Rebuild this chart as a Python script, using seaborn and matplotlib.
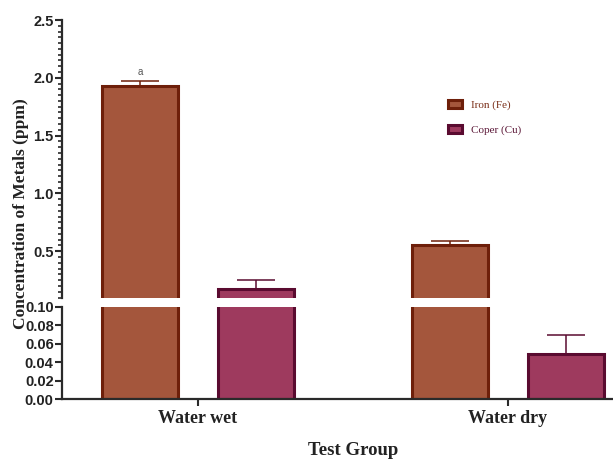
import numpy as np
import pandas as pd
import matplotlib
matplotlib.use("Agg")
import matplotlib.pyplot as plt
import seaborn as sns

# data
groups = ["Water wet", "Water dry"]
metals = ["Iron (Fe)", "Coper (Cu)"]
iron_mean = [1.93, 0.558]
iron_err = [0.046, 0.034]
copper_mean = [0.175, 0.0486]
copper_err = [0.075, 0.0212]

fill_colors = ["#A4563C", "#9E3A5E"]
edge_colors = ["#6E1F0A", "#5A0B30"]
text_colors = ["#7A2E18", "#5C1838"]

df = pd.DataFrame({
    "Group": groups * 2,
    "Metal": [metals[0]] * 2 + [metals[1]] * 2,
    "Value": iron_mean + copper_mean,
})

sns.set_style("ticks")
plt.rcParams["font.family"] = ["Liberation Sans", "DejaVu Sans"]

W, H = 613, 461
fig = plt.figure(figsize=(W / 100, H / 100), dpi=100)
left = 62 / W
width = 1 - left
ax_top = fig.add_axes([left, 1 - 297.5 / H, width, (297.5 - 20) / H])
ax_bot = fig.add_axes([left, 1 - 399.3 / H, width, (399.3 - 306.7) / H])

offset = 0.1875
for ax in (ax_top, ax_bot):
    sns.barplot(data=df, x="Group", y="Value", hue="Metal", order=groups,
                hue_order=metals, palette=fill_colors, width=0.75, gap=0.35,
                errorbar=None, legend=False, ax=ax, saturation=1)
    for cont, ec in zip(ax.containers, edge_colors):
        for p in cont:
            p.set_edgecolor(ec)
            p.set_linewidth(2.2)
    for k, (means, errs) in enumerate([(iron_mean, iron_err), (copper_mean, copper_err)]):
        xs = np.arange(len(groups)) + (k * 2 - 1) * offset
        ax.errorbar(xs, means, yerr=[np.zeros(len(errs)), errs], fmt="none",
                    ecolor=edge_colors[k], elinewidth=1.1, capsize=14,
                    capthick=1.1, zorder=1)
    ax.set_xlim(-136 / 310, 1 + 105 / 310)
    ax.set_xlabel("")
    ax.set_ylabel("")
    for s in ax.spines.values():
        s.set_linewidth(1.6)
        s.set_color("#2a2a2a")
    ax.spines["right"].set_visible(False)
    ax.spines["top"].set_visible(False)
    ax.tick_params(axis="y", labelsize=10.5, width=1.5, length=5, pad=1,
                   color="#2a2a2a", labelcolor="#222222")

ax_top.set_ylim(0.1, 2.5)
ax_top.set_yticks([0.5, 1.0, 1.5, 2.0, 2.5])
ax_top.set_yticks(np.arange(0.1, 2.5, 0.05), minor=True)
ax_top.yaxis.set_major_formatter(matplotlib.ticker.FormatStrFormatter("%.1f"))
ax_top.tick_params(axis="y", which="minor", length=3, width=1.2, color="#2a2a2a")
ax_top.spines["bottom"].set_visible(False)
ax_top.tick_params(axis="x", bottom=False, labelbottom=False)

ax_bot.set_ylim(0, 0.1)
ax_bot.set_yticks(np.arange(0, 0.101, 0.02))
ax_bot.yaxis.set_major_formatter(matplotlib.ticker.FormatStrFormatter("%.2f"))
ax_bot.tick_params(axis="x", width=1.5, length=5, pad=3, color="#2a2a2a")
ax_bot.set_xticks(range(len(groups)))
ax_bot.set_xticklabels(groups, family="Liberation Serif", fontweight="bold",
                       fontsize=13, color="#222222")

for ax in (ax_top, ax_bot):
    for t in ax.get_yticklabels():
        t.set_fontweight("bold")

# significance letter
ax_top.text(-offset, 2.046, "a", ha="center", va="center", fontsize=7,
            color="#555555", family="Liberation Sans")

# legend
handles = [ax_top.containers[0][0], ax_top.containers[1][0]]
leg = fig.legend(handles, metals, loc="upper left",
                 bbox_to_anchor=(438 / W, 1 - 90 / H), frameon=False,
                 prop={"family": "Liberation Serif", "size": 8},
                 handlelength=1.3, handleheight=0.8, labelspacing=1.3,
                 handletextpad=0.75)
for txt, c in zip(leg.get_texts(), text_colors):
    txt.set_color(c)

fig.text(21 / W, 1 - 214 / H, "Concentration of Metals (ppm)", rotation=90,
         ha="center", va="center", family="Liberation Serif",
         fontweight="bold", fontsize=12.5, color="#222222")
fig.text(353 / W, 1 - 450 / H, "Test Group", ha="center", va="center",
         family="Liberation Serif", fontweight="bold", fontsize=13.5,
         color="#222222")

fig.savefig("out.png", dpi=100)
